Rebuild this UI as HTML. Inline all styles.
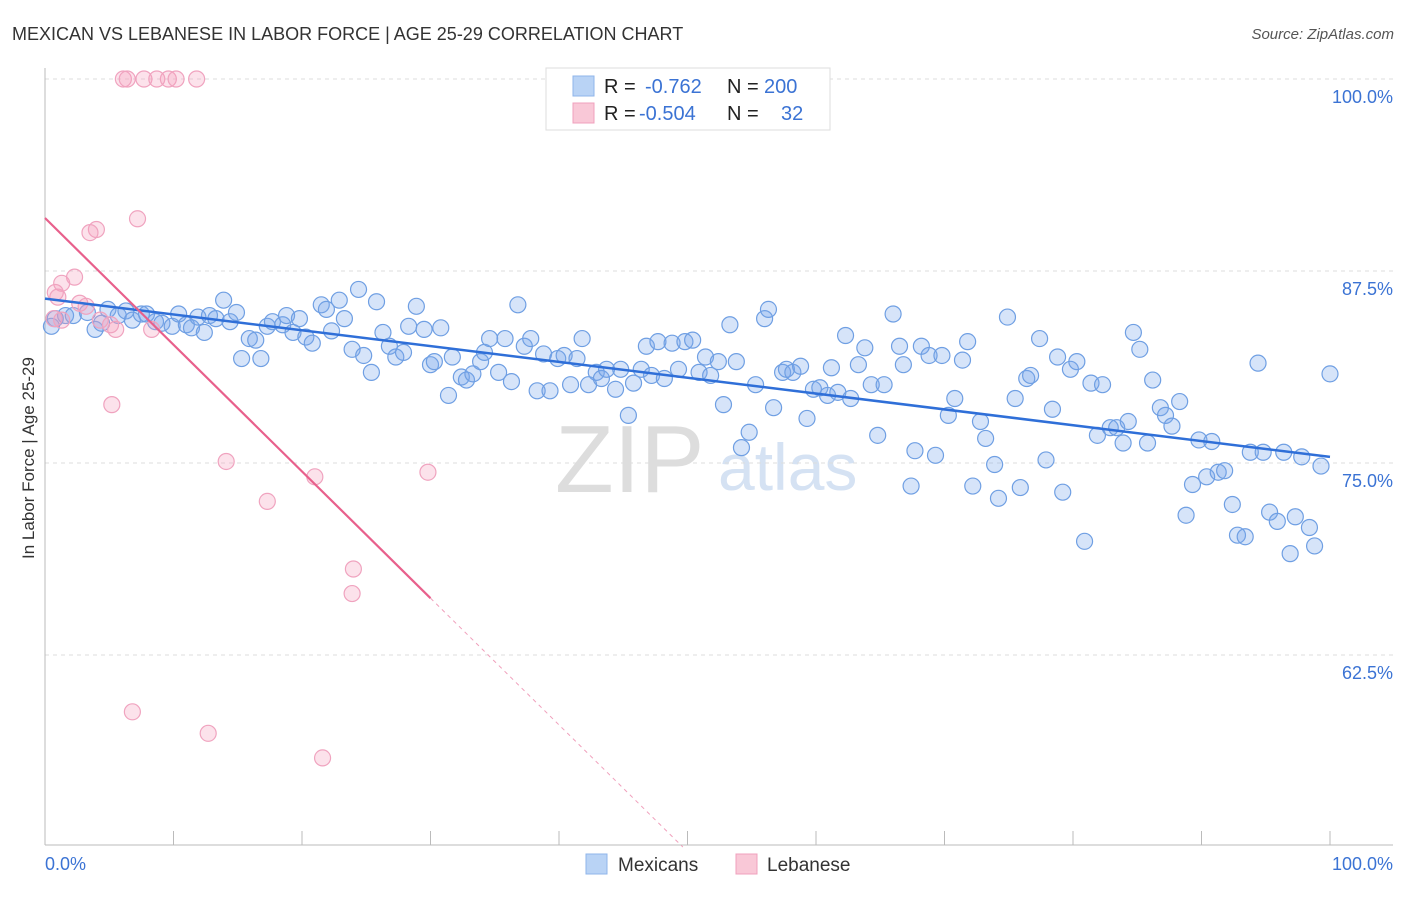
<!DOCTYPE html>
<html><head><meta charset="utf-8"><style>
body{margin:0;background:#fff;font-family:"Liberation Sans",sans-serif}
svg text{font-family:"Liberation Sans",sans-serif}
</style></head><body>
<svg id="chart" width="1406" height="892" xmlns="http://www.w3.org/2000/svg">
<text x="12" y="40" font-size="18" fill="#333">MEXICAN VS LEBANESE IN LABOR FORCE | AGE 25-29 CORRELATION CHART</text>
<text x="1394" y="39" font-size="15" fill="#555" text-anchor="end" font-style="italic">Source: ZipAtlas.com</text>
<text x="34" y="458" font-size="17" fill="#333" text-anchor="middle" transform="rotate(-90 34 458)">In Labor Force | Age 25-29</text>
<text x="555" y="492" font-size="96" fill="#ddd" font-family="Liberation Serif">ZIP</text>
<text x="718" y="490" font-size="66" fill="#d5e2f3">atlas</text>
<g id="grid"></g><g id="axes"></g><g id="pts"></g><g id="lines"></g>
<g>
<rect x="546" y="68" width="284" height="62" fill="#fff" stroke="#ddd"/>
<rect x="573" y="76" width="21" height="20" fill="#b9d3f5" stroke="#8fb5ea"/>
<rect x="573" y="103" width="21" height="20" fill="#f9c8d7" stroke="#f0a0bc"/>
<text x="604" y="93" font-size="20" fill="#222">R =</text><text x="645" y="93" font-size="20" fill="#3b73d4">-0.762</text>
<text x="727" y="93" font-size="20" fill="#222">N =</text><text x="764" y="93" font-size="20" fill="#3b73d4">200</text>
<text x="604" y="120" font-size="20" fill="#222">R =</text><text x="639" y="120" font-size="20" fill="#3b73d4">-0.504</text>
<text x="727" y="120" font-size="20" fill="#222">N =</text><text x="781" y="120" font-size="20" fill="#3b73d4">32</text>
</g>
<g>
<rect x="586" y="854" width="21" height="20" fill="#b9d3f5" stroke="#8fb5ea"/>
<text x="618" y="871" font-size="19" fill="#333">Mexicans</text>
<rect x="736" y="854" width="21" height="20" fill="#f9c8d7" stroke="#f0a0bc"/>
<text x="767" y="871" font-size="19" fill="#333">Lebanese</text>
</g>
</svg>
<script>
const yTicks=[100,87.5,75,62.5];
const yTickLabels=["100.0%","87.5%","75.0%","62.5%"];
const xTicks=[0,10,20,30,40,50,60,70,80,90,100];
const mexX=[0.5,0.8,1.6,2.2,3.3,3.9,4.4,4.9,5.7,6.3,6.8,7.5,7.9,8.6,9.1,9.9,10.4,11.0,11.4,11.9,12.4,12.8,13.3,13.9,14.4,14.9,15.3,15.9,16.4,16.8,17.3,17.7,18.5,18.8,19.3,19.8,20.3,20.8,21.5,21.9,22.3,22.9,23.3,23.9,24.4,24.8,25.4,25.8,26.3,26.8,27.3,27.9,28.3,28.9,29.5,30.0,30.3,30.8,31.4,31.7,32.4,32.8,33.3,33.9,34.2,34.6,35.3,35.8,36.3,36.8,37.3,37.8,38.3,38.8,39.3,39.9,40.4,40.9,41.4,41.8,42.3,42.9,43.3,43.7,44.4,44.8,45.4,45.8,46.4,46.8,47.2,47.7,48.2,48.8,49.3,49.8,50.4,50.9,51.4,51.8,52.4,52.8,53.3,53.8,54.2,54.8,55.3,56.0,56.3,56.7,57.4,57.7,58.2,58.8,59.3,59.8,60.3,60.9,61.2,61.7,62.3,62.7,63.3,63.8,64.3,64.8,65.3,66.0,66.5,66.8,67.4,67.7,68.2,68.8,69.3,69.8,70.3,70.8,71.4,71.8,72.2,72.8,73.2,73.9,74.2,74.9,75.5,75.9,76.4,76.7,77.4,77.9,78.4,79.2,78.8,79.8,80.3,80.9,81.4,81.9,82.3,82.9,83.4,83.9,84.3,84.7,85.2,85.8,86.2,86.8,87.2,87.7,88.3,88.8,89.3,89.8,90.4,90.8,91.3,91.8,92.4,92.8,93.4,93.8,94.4,94.8,95.3,95.9,96.4,96.9,97.3,97.8,98.4,98.8,99.3,100];
const mexY=[83.9,84.4,84.6,84.6,84.8,83.7,84.1,85.0,84.6,84.9,84.3,84.7,84.7,84.2,84.1,83.9,84.7,84.0,83.8,84.5,83.5,84.6,84.4,85.6,84.2,84.8,81.8,83.1,83.0,81.8,83.9,84.2,84.0,84.6,83.5,84.4,83.2,82.8,85.3,85.0,83.6,85.6,84.4,82.4,86.3,82.0,80.9,85.5,83.5,82.6,81.9,82.2,83.9,85.2,83.7,81.4,81.6,83.8,79.4,81.9,80.6,80.4,80.8,81.6,82.2,83.1,80.9,83.1,80.3,85.3,82.6,83.1,79.7,82.1,79.7,81.8,82.0,80.1,81.8,83.1,80.1,80.9,80.5,81.1,79.8,81.1,78.1,80.2,81.1,82.6,80.7,82.9,80.5,82.8,81.1,82.9,83.0,80.9,81.9,80.7,81.6,78.8,84.0,81.6,76.0,77.0,80.1,84.4,85.0,78.6,80.9,81.1,80.9,81.3,77.9,79.8,79.9,79.4,81.2,79.6,83.3,79.2,81.4,82.5,80.1,76.8,80.1,84.7,82.6,81.4,73.5,75.8,82.6,82.0,75.5,82.0,78.1,79.2,81.7,82.9,73.5,77.7,76.6,74.9,72.7,84.5,79.2,73.4,80.5,80.7,83.1,75.2,78.5,73.1,81.9,81.1,81.6,69.9,80.2,76.8,80.1,77.3,77.3,76.3,77.7,83.5,82.4,76.3,80.4,78.6,78.1,77.4,79.0,71.6,73.6,76.5,74.1,76.4,74.4,74.5,72.3,70.3,70.2,75.7,81.5,75.7,71.8,71.2,75.7,69.1,71.5,75.4,70.8,69.6,74.8,80.8];
const lebX=[6.1,6.4,7.7,8.7,9.6,10.2,11.8,7.2,4.0,3.5,2.3,1.3,0.8,1.0,2.7,3.2,0.7,4.3,5.5,8.3,5.2,14.1,29.8,21.0,17.3,24.0,23.9,6.8,12.7,21.6,1.3,5.1];
const lebY=[100,100,100,100,100,100,100,90.9,90.2,90.0,87.1,86.7,86.1,85.8,85.4,85.2,84.4,84.3,83.7,83.7,78.8,75.1,74.4,74.1,72.5,68.1,66.5,58.8,57.4,55.8,84.3,84.0];
const mexTrend=[85.7,75.4];
const lebTrend=[90.95,66.2];
const lebTrendX=[0,30];

const X=v=>45+v*12.85, Y=v=>79+(100-v)*15.36;
const NS="http://www.w3.org/2000/svg";
function mk(parent,tag,attrs){const e=document.createElementNS(NS,tag);for(const k in attrs)e.setAttribute(k,attrs[k]);document.getElementById(parent).appendChild(e);return e;}
yTicks.forEach((t,i)=>{
 const g=mk('grid','line',{x1:45,x2:1393,y1:Y(t),y2:Y(t),stroke:'#ddd','stroke-dasharray':'4,4'});
 
 
 const l=mk('axes','text',{x:1393,y:Y(t)+24,'font-size':18,fill:'#3b73d4','text-anchor':'end'});
 l.textContent=yTickLabels[i];
 
 
});
const ya=mk('axes','line',{x1:45,x2:45,y1:68,y2:845,stroke:'#bbb'});


const xa=mk('axes','line',{x1:45,x2:1393,y1:845,y2:845,stroke:'#bbb'});


xTicks.forEach(t=>{
 const k=mk('axes','line',{x1:X(t),x2:X(t),y1:831,y2:845,stroke:'#bbb'});
 
 
});
[[0,'0.0%','start',45],[100,'100.0%','end',1393]].forEach(a=>{
 const l=mk('axes','text',{x:a[3],y:870,'font-size':18,fill:'#3b73d4','text-anchor':a[2]});
 l.textContent=a[1];
 
 
});
mexX.forEach((x,i)=>{
 const c=mk('pts','circle',{cx:X(x),cy:Y(mexY[i]),r:8,fill:'rgba(120,165,235,0.3)',stroke:'#6f9fe3','stroke-width':1.2});
 
 
});
lebX.forEach((x,i)=>{
 const c=mk('pts','circle',{cx:X(x),cy:Y(lebY[i]),r:8,fill:'rgba(245,160,190,0.3)',stroke:'#f0a3bf','stroke-width':1.2});
 
 
});
const bl=mk('lines','line',{x1:X(0),y1:Y(mexTrend[0]),x2:X(100),y2:Y(mexTrend[1]),stroke:'#2f6fd8','stroke-width':2.5});


const slope=(lebTrend[1]-lebTrend[0])/(lebTrendX[1]-lebTrendX[0]);
const xEnd=lebTrendX[0]+(50-lebTrend[0])/slope;
const pl=mk('lines','line',{x1:X(lebTrendX[0]),y1:Y(lebTrend[0]),x2:X(lebTrendX[1]),y2:Y(lebTrend[1]),stroke:'#e8608c','stroke-width':2.2});


const pd=mk('lines','line',{x1:X(lebTrendX[1]),y1:Y(lebTrend[1]),x2:X(xEnd),y2:Y(50),stroke:'#f0a0bc','stroke-width':1,'stroke-dasharray':'4,4'});


</script>
</body></html>
